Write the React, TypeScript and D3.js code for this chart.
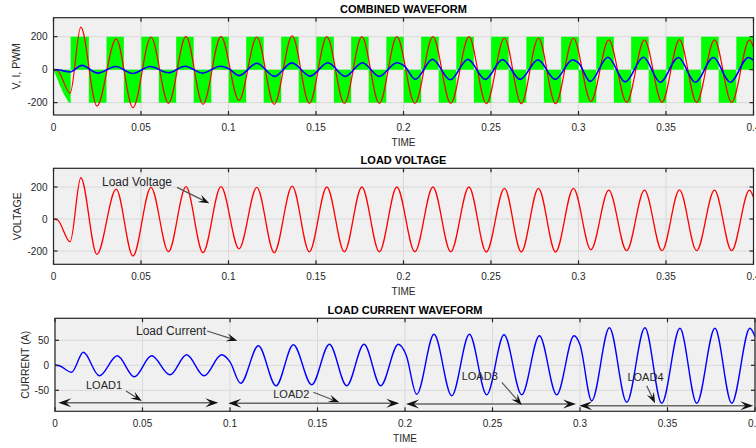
import React from "react";
import * as d3 from "d3";

const FIG_W = 756;
const FIG_H = 448;
const FONT = "'Liberation Sans', Arial, Helvetica, sans-serif";

// ---------- tick labels ----------
const timeTicks = [0, 0.05, 0.1, 0.15, 0.2, 0.25, 0.3, 0.35, 0.4];
const timeTickLabels = ["0", "0.05", "0.1", "0.15", "0.2", "0.25", "0.3", "0.35", "0.4"];
const voltTicks = [-200, 0, 200];
const voltTickLabels = ["-200", "0", "200"];
const currTicks = [-50, 0, 50];
const currTickLabels = ["-50", "0", "50"];

// ---------- load voltage (extrema) ----------
const voltTimes = [
  0, 0.0025, 0.0095, 0.0156, 0.0248, 0.0358, 0.0454, 0.0557, 0.0657, 0.0757, 0.0854, 0.0957,
  0.106, 0.1162, 0.1261, 0.1364, 0.1462, 0.1562, 0.1662, 0.1762, 0.1862, 0.1962, 0.2065,
  0.2168, 0.227, 0.2374, 0.2473, 0.2577, 0.2673, 0.2771, 0.2869, 0.2971, 0.3071, 0.3173,
  0.3275, 0.3377, 0.3477, 0.3577, 0.3675, 0.3777, 0.3875, 0.3977, 0.4,
];
const voltValues = [
  0, -8, -142, 258, -221, 187, -231, 198, -204, 202, -210, 202,
  -186, 198, -210, 205, -205, 200, -205, 200, -205, 200, -205,
  200, -205, 200, -206, 192, -206, 192, -206, 192, -192, 180,
  -198, 180, -198, 182, -198, 180, -198, 180, 135,
];

// ---------- load current (extrema) ----------
const currTimes = [
  0, 0.0025, 0.0095, 0.0162, 0.0253, 0.0356, 0.0453, 0.0552, 0.0657, 0.0752, 0.0852, 0.0952,
  0.1, 0.1061, 0.1162, 0.1263, 0.1362, 0.1467, 0.1568, 0.1667, 0.1766, 0.1861, 0.1962,
  0.2006, 0.2067, 0.2166, 0.2267, 0.2368, 0.2467, 0.2566, 0.2667, 0.2768, 0.2867, 0.2966,
  0.3, 0.3067, 0.3168, 0.3267, 0.3371, 0.3467, 0.3571, 0.3667, 0.3771, 0.3867, 0.3971, 0.4,
];
const currValues = [
  0, -1, -14, 26, -21, 19, -23, 19, -19, 21, -21, 21,
  7, -36, 39, -41, 41, -39, 42, -41, 42, -41, 42,
  21, -58, 62, -61, 62, -59, 61, -59, 59, -59, 59,
  41, -71, 75, -74, 75, -76, 74, -76, 74, -76, 74, 57,
];

// ---------- PWM (switching edges and levels) ----------
const pwmEdges = [
  0.0098, 0.0202, 0.0303, 0.0402, 0.0502, 0.0602, 0.0701, 0.0801, 0.0902, 0.1001,
  0.1101, 0.1201, 0.1301, 0.1401, 0.1502, 0.1602, 0.1701, 0.1801, 0.1902, 0.2001,
  0.2101, 0.2201, 0.2302, 0.2402, 0.2501, 0.2601, 0.2702, 0.2802, 0.2901, 0.3001,
  0.3102, 0.3202, 0.3301, 0.3401, 0.3502, 0.3602, 0.3701, 0.3801, 0.3902, 0.4,
];
const pwmLevels = [
  200, -200, 200, -200, 200, -200, 200, -200, 200, -200,
  200, -200, 200, -200, 200, -200, 200, -200, 200, -200,
  200, -200, 200, -200, 200, -200, 200, -200, 200, -200,
  200, -200, 200, -200, 200, -200, 200, -200, 200, 200,
];
const pwmRampTimes = [0, 0.0017, 0.0036, 0.0055, 0.0074, 0.009, 0.0098];
const pwmRampValues = [0, -45, -95, -140, -175, -200, -200];

// ---------- annotations (data coordinates) ----------
const voltNotes = [{ text: "Load Voltage", tx: 0.0277, ty: 233, ax0: 0.0706, ay0: 198, ax1: 0.089, ay1: 98 }];
const currNotes = [
  { text: "Load Current", tx: 0.0463, ty: 68.6, ax0: 0.0869, ay0: 68.6, ax1: 0.1042, ay1: 49.2 },
  { text: "LOAD1", tx: 0.0177, ty: -39.4, ax0: 0.0406, ay0: -51.4, ax1: 0.0496, ay1: -71.4 },
  { text: "LOAD2", tx: 0.1247, ty: -58, ax0: 0.1476, ay0: -54, ax1: 0.1625, ay1: -74 },
  { text: "LOAD3", tx: 0.2324, ty: -21.4, ax0: 0.2553, ay0: -34, ax1: 0.2667, ay1: -79.4 },
  { text: "LOAD4", tx: 0.3271, ty: -23.4, ax0: 0.3381, ay0: -40.8, ax1: 0.3429, ay1: -76 },
];
const loadSpanStart = [0.0019, 0.099, 0.2006, 0.2996];
const loadSpanEnd = [0.0933, 0.1967, 0.2977, 0.399];
const loadSpanLevel = [-74.8, -76, -77.4, -80.8];

type Scale = d3.ScaleLinear<number, number>;

function headPath(x0: number, y0: number, x1: number, y1: number, L: number, Wd: number) {
  const dx = x1 - x0, dy = y1 - y0;
  const len = Math.hypot(dx, dy) || 1;
  const ux = dx / len, uy = dy / len;
  const px = -uy, py = ux;
  const bx = x1 - ux * L, by = y1 - uy * L;
  const nx = x1 - ux * L * 0.6, ny = y1 - uy * L * 0.6;
  return `M${x1},${y1}L${bx + px * Wd},${by + py * Wd}L${nx},${ny}L${bx - px * Wd},${by - py * Wd}Z`;
}

function Arrow({ x0, y0, x1, y1, L = 11, Wd = 4 }: any) {
  const len = Math.hypot(x1 - x0, y1 - y0) || 1;
  const ex = x1 - ((x1 - x0) / len) * L * 0.6;
  const ey = y1 - ((y1 - y0) / len) * L * 0.6;
  return (
    <g>
      <line x1={x0} y1={y0} x2={ex} y2={ey} stroke="#555" strokeWidth={1.2} />
      <path d={headPath(x0, y0, x1, y1, L, Wd)} fill="#111" />
    </g>
  );
}

function DoubleArrow({ x0, x1, y }: any) {
  return (
    <g>
      <line x1={x0 + 6} y1={y} x2={x1 - 6} y2={y} stroke="#666" strokeWidth={1.5} />
      <path d={headPath(x1, y, x0, y, 13, 4.5)} fill="#111" />
      <path d={headPath(x0, y, x1, y, 13, 4.5)} fill="#111" />
    </g>
  );
}

type PanelProps = {
  id: string;
  left: number;
  right: number;
  top: number;
  bottom: number;
  yDomain: [number, number];
  yTicks: number[];
  yTickLabels: string[];
  title: string;
  ylabel: string;
  ylabelX: number;
  children: (x: Scale, y: Scale) => React.ReactNode;
};

function Panel(p: PanelProps) {
  const x = d3.scaleLinear().domain([0, 0.4]).range([p.left, p.right]);
  const y = d3.scaleLinear().domain(p.yDomain).range([p.bottom, p.top]);
  const tick = 4;
  const midX = (p.left + p.right) / 2;
  const midY = (p.top + p.bottom) / 2;
  return (
    <g>
      <defs>
        <clipPath id={`clip-${p.id}`}>
          <rect x={p.left} y={p.top} width={p.right - p.left} height={p.bottom - p.top} />
        </clipPath>
      </defs>
      <rect x={p.left} y={p.top} width={p.right - p.left} height={p.bottom - p.top} fill="#f0f0f0" />
      {timeTicks.map((t) => (
        <line key={`gx${t}`} x1={x(t)} x2={x(t)} y1={p.top} y2={p.bottom} stroke="#d9d9d9" strokeWidth={1} />
      ))}
      {p.yTicks.map((v) => (
        <line key={`gy${v}`} x1={p.left} x2={p.right} y1={y(v)} y2={y(v)} stroke="#d9d9d9" strokeWidth={1} />
      ))}
      <g clipPath={`url(#clip-${p.id})`}>{p.children(x, y)}</g>
      <rect
        x={p.left}
        y={p.top}
        width={p.right - p.left}
        height={p.bottom - p.top}
        fill="none"
        stroke="#262626"
        strokeWidth={1.2}
      />
      {timeTicks.map((t) => (
        <g key={`tx${t}`}>
          <line x1={x(t)} x2={x(t)} y1={p.bottom} y2={p.bottom - tick} stroke="#262626" strokeWidth={1.2} />
          <line x1={x(t)} x2={x(t)} y1={p.top} y2={p.top + tick} stroke="#262626" strokeWidth={1.2} />
        </g>
      ))}
      {p.yTicks.map((v) => (
        <g key={`ty${v}`}>
          <line x1={p.left} x2={p.left + tick} y1={y(v)} y2={y(v)} stroke="#262626" strokeWidth={1.2} />
          <line x1={p.right} x2={p.right - tick} y1={y(v)} y2={y(v)} stroke="#262626" strokeWidth={1.2} />
        </g>
      ))}
      {timeTicks.map((t, i) => (
        <text
          key={`lx${t}`}
          x={x(t)}
          y={p.bottom + 12.5}
          textAnchor="middle"
          dominantBaseline="central"
          fontSize={10}
          fill="#262626"
          fontFamily={FONT}
        >
          {timeTickLabels[i]}
        </text>
      ))}
      {p.yTicks.map((v, i) => (
        <text
          key={`ly${v}`}
          x={p.left - 6}
          y={y(v)}
          textAnchor="end"
          dominantBaseline="central"
          fontSize={10}
          fill="#262626"
          fontFamily={FONT}
        >
          {p.yTickLabels[i]}
        </text>
      ))}
      <text
        x={midX}
        y={p.bottom + 27}
        textAnchor="middle"
        dominantBaseline="central"
        fontSize={10}
        fill="#262626"
        fontFamily={FONT}
      >
        TIME
      </text>
      <text
        x={midX}
        y={p.top - 8.5}
        textAnchor="middle"
        dominantBaseline="central"
        fontSize={11}
        fontWeight="bold"
        fill="#000"
        fontFamily={FONT}
      >
        {p.title}
      </text>
      <text
        transform={`translate(${p.ylabelX},${midY}) rotate(-90)`}
        textAnchor="middle"
        dominantBaseline="central"
        fontSize={10.5}
        fill="#262626"
        fontFamily={FONT}
      >
        {p.ylabel}
      </text>
    </g>
  );
}

function linePath(x: Scale, y: Scale, ts: number[], vs: number[]) {
  const pts = ts.map((t, i) => [t, vs[i]] as [number, number]);
  return d3
    .line<[number, number]>()
    .x((d) => x(d[0]))
    .y((d) => y(d[1]))
    .curve(d3.curveMonotoneX)(pts) as string;
}

function pwmPath(x: Scale, y: Scale) {
  const pts = pwmEdges.map((t, i) => [t, pwmLevels[i]] as [number, number]);
  return d3
    .area<[number, number]>()
    .x((d) => x(d[0]))
    .y0(y(0))
    .y1((d) => y(d[1]))
    .curve(d3.curveStepAfter)(pts) as string;
}

function rampPath(x: Scale, y: Scale) {
  const pts = pwmRampTimes.map((t, i) => [t, pwmRampValues[i]] as [number, number]);
  return d3
    .area<[number, number]>()
    .x((d) => x(d[0]))
    .y0(y(0))
    .y1((d) => y(d[1]))
    .curve(d3.curveMonotoneX)(pts) as string;
}

export default function App() {
  return (
    <svg
      width={FIG_W}
      height={FIG_H}
      style={{ position: "absolute", left: 0, top: 0, background: "#fff" }}
    >
      <rect x={0} y={0} width={FIG_W} height={FIG_H} fill="#fff" />
      <Panel
        id="p1"
        left={53.5}
        right={753.5}
        top={17.7}
        bottom={115}
        yDomain={[-275, 315]}
        yTicks={voltTicks}
        yTickLabels={voltTickLabels}
        title="COMBINED WAVEFORM"
        ylabel="V, I, PWM"
        ylabelX={16}
      >
        {(x, y) => (
          <g>
            <path d={rampPath(x, y)} fill="#00ff00" />
            <path d={pwmPath(x, y)} fill="#00ff00" />
            <path d={linePath(x, y, voltTimes, voltValues)} fill="none" stroke="#ff0000" strokeWidth={1.2} />
            <path d={linePath(x, y, currTimes, currValues)} fill="none" stroke="#0000ff" strokeWidth={1.6} />
          </g>
        )}
      </Panel>
      <Panel
        id="p2"
        left={53.5}
        right={753.5}
        top={168.3}
        bottom={264.3}
        yDomain={[-283, 317]}
        yTicks={voltTicks}
        yTickLabels={voltTickLabels}
        title="LOAD VOLTAGE"
        ylabel="VOLTAGE"
        ylabelX={16.5}
      >
        {(x, y) => (
          <g>
            <path d={linePath(x, y, voltTimes, voltValues)} fill="none" stroke="#ff0000" strokeWidth={1.3} />
            {voltNotes.map((n) => (
              <g key={n.text}>
                <text
                  x={x(n.tx)}
                  y={y(n.ty)}
                  dominantBaseline="central"
                  fontSize={12}
                  fill="#262626"
                  fontFamily={FONT}
                >
                  {n.text}
                </text>
                <Arrow x0={x(n.ax0)} y0={y(n.ay0)} x1={x(n.ax1)} y1={y(n.ay1)} />
              </g>
            ))}
          </g>
        )}
      </Panel>
      <Panel
        id="p3"
        left={55}
        right={755}
        top={318.3}
        bottom={411.3}
        yDomain={[-92, 94]}
        yTicks={currTicks}
        yTickLabels={currTickLabels}
        title="LOAD CURRENT WAVEFORM"
        ylabel="CURRENT (A)"
        ylabelX={25}
      >
        {(x, y) => (
          <g>
            <path d={linePath(x, y, currTimes, currValues)} fill="none" stroke="#0000ff" strokeWidth={1.4} />
            {loadSpanStart.map((s, i) => (
              <DoubleArrow key={`da${i}`} x0={x(s)} x1={x(loadSpanEnd[i])} y={y(loadSpanLevel[i])} />
            ))}
            {currNotes.map((n) => (
              <g key={n.text}>
                <text
                  x={x(n.tx)}
                  y={y(n.ty)}
                  dominantBaseline="central"
                  fontSize={n.text.startsWith("LOAD") ? 11 : 12}
                  fill="#262626"
                  fontFamily={FONT}
                >
                  {n.text}
                </text>
                <Arrow x0={x(n.ax0)} y0={y(n.ay0)} x1={x(n.ax1)} y1={y(n.ay1)} />
              </g>
            ))}
          </g>
        )}
      </Panel>
    </svg>
  );
}
